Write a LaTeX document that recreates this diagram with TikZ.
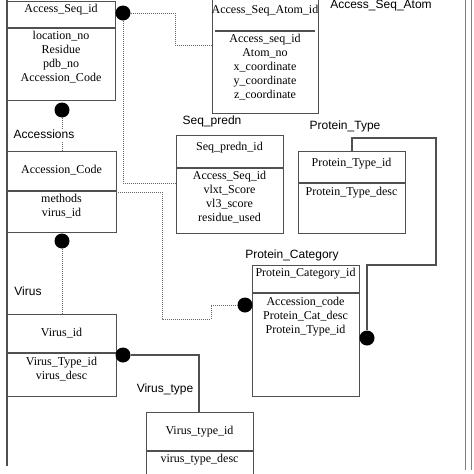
\documentclass[tikz,border=0pt]{standalone}
\usepackage{fontspec}
\setmainfont{Liberation Serif}
\newfontfamily\lab{Liberation Sans}
\definecolor{boxc}{HTML}{505050}
\definecolor{dotc}{HTML}{666666}
\begin{document}
\begin{tikzpicture}[x=1pt,y=-1pt,
  tbl/.style={draw=boxc, line width=1.1pt, inner sep=0pt, anchor=north west, fill=white},
  fld/.style={font=\fontsize{12}{14}\selectfont, inner sep=0pt, text height=8.5pt, text depth=2.5pt},
  lbl/.style={font=\lab\fontsize{12}{14}\selectfont, inner sep=1pt, text height=8.5pt, text depth=2.5pt},
  dotn/.style={circle, fill=black, minimum size=15pt, inner sep=0pt},
  dotl/.style={draw=dotc, line width=0.9pt, dash pattern=on 1pt off 1pt},
  sol/.style={draw=boxc, line width=1.1pt}]
\useasboundingbox (0,0) rectangle (474,474);
% frame lines
\draw[sol] (7,0) -- (7,466);
\draw[draw=gray, line width=1pt] (465,0) -- (465,470);
\draw[draw=gray, line width=1pt] (471.5,0) -- (471.5,470);
% connectors (drawn first)
\coordinate (c1a) at (175,13);
\coordinate (c1b) at (175,45);
\coordinate (c1c) at (212,45);
\coordinate (c2a) at (123,183);
\coordinate (c2b) at (176,183);
\coordinate (c3a) at (116,192);
\coordinate (c3b) at (162,192);
\coordinate (c3c) at (162,319);
\coordinate (c3d) at (211,319);
\coordinate (c3e) at (211,305);
\coordinate (c4a) at (352,151);
\coordinate (c4b) at (352,138);
\coordinate (c4c) at (436,138);
\coordinate (c4d) at (436,265);
\coordinate (c4e) at (367,265);
\coordinate (c5a) at (199,355);
\coordinate (c5b) at (199,412);
% boxes
\node[tbl, minimum width=108pt, minimum height=99pt] (as) at (7,0.5) {};
\node[tbl, minimum width=106pt, minimum height=115pt] (asa) at (212,-2) {};
\node[tbl, minimum width=107pt, minimum height=98pt] (sp) at (176,135) {};
\node[tbl, minimum width=107pt, minimum height=82pt] (pt) at (298,151) {};
\node[tbl, minimum width=107pt, minimum height=131pt] (pc) at (252,265) {};
\node[tbl, minimum width=109pt, minimum height=81pt] (ac) at (7,151) {};
\node[tbl, minimum width=109pt, minimum height=82pt] (v) at (7,314) {};
\node[tbl, minimum width=107pt, minimum height=80pt] (vt) at (146,412) {};
% separators
\draw[sol] (7,28) -- (115,28);
\draw[sol] (215,31) -- (315,31);
\draw[sol] (176,168) -- (283,168);
\draw[sol] (298,183) -- (405,183);
\draw[sol] (252,293) -- (359,293);
\draw[sol] (7,191) -- (116,191);
\draw[sol] (7,353) -- (116,353);
\draw[sol] (146,451) -- (253,451);
% dots
\node[dotn] (d1) at (123,13) {};
\node[dotn] (d2) at (62,110) {};
\node[dotn] (d3) at (62,241) {};
\node[dotn] (d4) at (245,305) {};
\node[dotn] (d5) at (367,338) {};
\node[dotn] (d6) at (123,355) {};
% connectors
\draw[dotl] (d1.east) -- (c1a) -- (c1b) -- (c1c);
\draw[dotl] (d1.south) -- (c2a) -- (c2b);
\draw[dotl] (d2.south) -- (ac.north -| d2);
\draw[dotl] (d3.south) -- (v.north -| d3);
\draw[dotl] (c3a) -- (c3b) -- (c3c) -- (c3d) -- (c3e) -- (d4.west);
\draw[sol] (c4a) -- (c4b) -- (c4c) -- (c4d) -- (c4e) -- (d5.north);
\draw[sol] (d6.east) -- (c5a) -- (c5b);
% labels
\node[lbl] (l1) at (381,5) {Access\_Seq\_Atom};
\node[lbl, fill=white] (l2) at (44,135) {Accessions};
\node[lbl] (l3) at (212,121) {Seq\_predn};
\node[lbl] (l4) at (345,126) {Protein\_Type};
\node[lbl] (l5) at (292,255) {Protein\_Category};
\node[lbl] (l6) at (28,292) {Virus};
\node[lbl] (l7) at (165,389) {Virus\_type};
% fields
\node[fld] (ash) at (61,9) {Access\_Seq\_id};
\foreach \t [count=\i] in {location\_no, Residue, pdb\_no, Accession\_Code}
  \node[fld] (asb\i) at (61,21.7+14.3*\i) {\t};
\node[fld] (asah) at (265,10) {Access\_Seq\_Atom\_id};
\foreach \t [count=\i] in {Access\_seq\_id, Atom\_no, x\_coordinate, y\_coordinate, z\_coordinate}
  \node[fld] (asab\i) at (265,25+14*\i) {\t};
\node[fld] (sph) at (229.5,147) {Seq\_predn\_id};
\foreach \t [count=\i] in {Access\_Seq\_id, vlxt\_Score, vl3\_score, residue\_used}
  \node[fld] (spb\i) at (229.5,161.7+14.3*\i) {\t};
\node[fld] (pth) at (351.5,163) {Protein\_Type\_id};
\node[fld] (ptb1) at (351.5,192) {Protein\_Type\_desc};
\node[fld] (pch) at (305.5,273) {Protein\_Category\_id};
\foreach \t [count=\i] in {Accession\_code, Protein\_Cat\_desc, Protein\_Type\_id}
  \node[fld] (pcb\i) at (305.5,287.7+14.3*\i) {\t};
\node[fld] (ach) at (61.5,170) {Accession\_Code};
\foreach \t [count=\i] in {methods, virus\_id}
  \node[fld] (acb\i) at (61.5,184.7+14.3*\i) {\t};
\node[fld] (vh) at (61.5,333) {Virus\_id};
\foreach \t [count=\i] in {Virus\_Type\_id, virus\_desc}
  \node[fld] (vb\i) at (61.5,347.7+14.3*\i) {\t};
\node[fld] (vth) at (199.5,431) {Virus\_type\_id};
\node[fld] (vtb1) at (199.5,459) {virus\_type\_desc};
\end{tikzpicture}
\end{document}
